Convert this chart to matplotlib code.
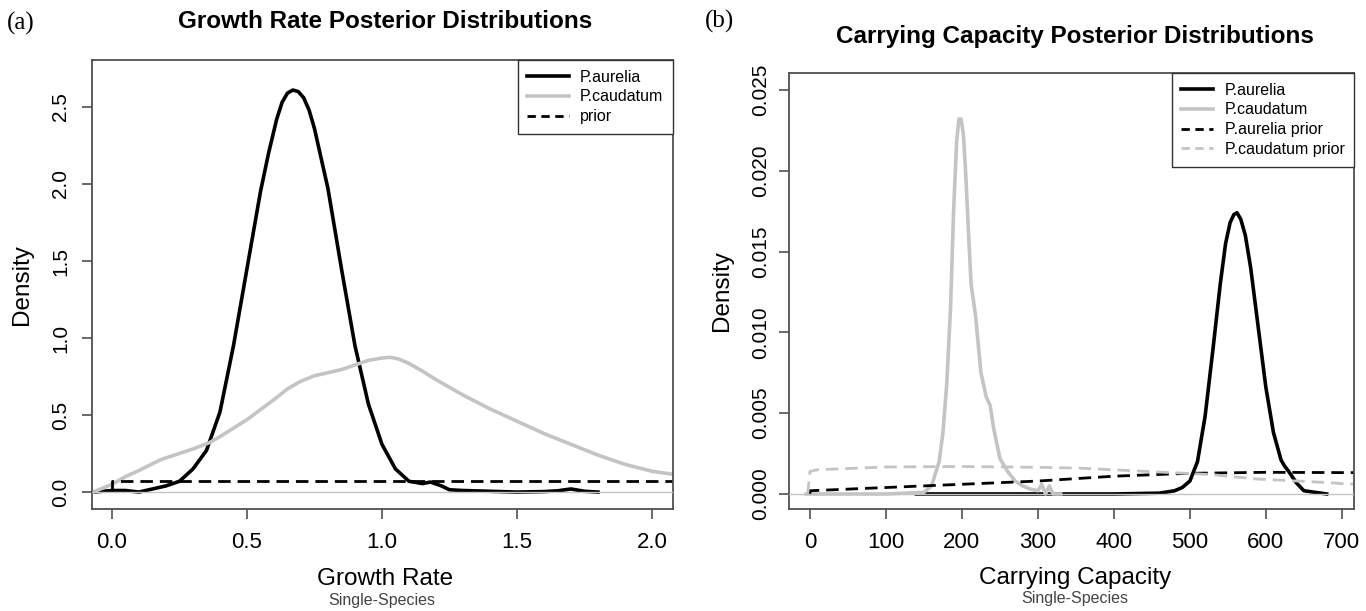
import matplotlib
matplotlib.use('Agg')
import matplotlib.pyplot as plt
from matplotlib.lines import Line2D

plt.rcParams['font.family'] = ['Liberation Sans', 'DejaVu Sans']

# growth rate panel (a)
gr_aur_x = [-0.07, 0.0, 0.05, 0.1, 0.15, 0.2, 0.25, 0.3, 0.35, 0.4, 0.45, 0.5, 0.55, 0.58, 0.61,
            0.63, 0.65, 0.67, 0.69, 0.71, 0.73, 0.75, 0.8, 0.85, 0.9, 0.95, 1.0, 1.05, 1.1, 1.15,
            1.18, 1.22, 1.25, 1.3, 1.4, 1.5, 1.6, 1.65, 1.7, 1.75, 1.8]
gr_aur_y = [0.0, 0.01, 0.01, 0.0, 0.02, 0.04, 0.07, 0.15, 0.27, 0.52, 0.95, 1.45, 1.95, 2.2, 2.42,
            2.53, 2.59, 2.61, 2.6, 2.56, 2.48, 2.36, 1.97, 1.45, 0.95, 0.57, 0.31, 0.15, 0.07, 0.055,
            0.065, 0.04, 0.015, 0.01, 0.005, 0.0, 0.003, 0.008, 0.02, 0.005, 0.0]
gr_cau_x = [-0.07, 0.0, 0.05, 0.1, 0.18, 0.3, 0.36, 0.4, 0.5, 0.6, 0.65, 0.7, 0.75, 0.8, 0.85,
            0.9, 0.95, 1.0, 1.03, 1.06, 1.1, 1.15, 1.2, 1.3, 1.4, 1.5, 1.6, 1.7, 1.8, 1.9, 2.0, 2.08]
gr_cau_y = [0.0, 0.05, 0.1, 0.14, 0.21, 0.28, 0.32, 0.36, 0.47, 0.6, 0.67, 0.72, 0.755, 0.775, 0.795,
            0.825, 0.855, 0.87, 0.875, 0.865, 0.835, 0.785, 0.73, 0.63, 0.54, 0.46, 0.38, 0.31, 0.24,
            0.18, 0.135, 0.115]
gr_prior_x = [0.0, 0.0, 2.1]
gr_prior_y = [0.0, 0.07, 0.07]

# carrying capacity panel (b)
cc_aur_x = [140, 200, 300, 400, 460, 480, 490, 500, 510, 520, 530, 540, 547, 553, 558, 562, 567,
            573, 580, 590, 600, 610, 620, 625, 630, 640, 650, 665, 680]
cc_aur_y = [0, 0, 0, 0, 0.00005, 0.0002, 0.0004, 0.0008, 0.002, 0.0048, 0.0088, 0.013, 0.0155,
            0.0168, 0.0173, 0.0174, 0.0170, 0.0160, 0.014, 0.0103, 0.0066, 0.0038, 0.0021, 0.0017,
            0.0014, 0.0007, 0.0002, 0.0001, 0]
cc_cau_x = [-5, 0, 50, 100, 150, 160, 170, 175, 180, 185, 189, 193, 196, 199, 202, 205, 208,
            212, 218, 225, 232, 237, 242, 250, 260, 270, 280, 290, 300, 305, 310, 315, 320, 330]
cc_cau_y = [0, 0, 0, 0, 0.0001, 0.0005, 0.002, 0.0038, 0.0068, 0.0115, 0.0175, 0.0218, 0.0232,
            0.0232, 0.0222, 0.0198, 0.0168, 0.013, 0.011, 0.0075, 0.006, 0.0055, 0.004, 0.0022,
            0.0014, 0.0008, 0.0005, 0.0003, 0.0002, 0.0006, 0.0, 0.0005, 0.0, 0.0]
cc_aur_prior_x = [0, 0, 100, 200, 300, 400, 500, 600, 716]
cc_aur_prior_y = [0, 0.0002, 0.0004, 0.0006, 0.0008, 0.0011, 0.00128, 0.00134, 0.00132]
cc_cau_prior_x = [-3, 0, 10, 100, 200, 300, 354, 441, 528, 587, 667, 716]
cc_cau_prior_y = [0, 0.0014, 0.0015, 0.00167, 0.0017, 0.00165, 0.0016, 0.0014, 0.0012, 0.00093, 0.00074, 0.0006]

BLACK = 'black'
GRAY = '#c4c4c4'
AXC = '#505050'

fig = plt.figure(figsize=(13.66, 6.11), dpi=100)
W, H = 1366.0, 611.0
ax1 = fig.add_axes([92 / W, 1 - 509 / H, (673 - 92) / W, (509 - 60) / H])
ax2 = fig.add_axes([789 / W, 1 - 509 / H, (1354 - 789) / W, (509 - 73) / H])

for ax in (ax1, ax2):
    for s in ax.spines.values():
        s.set_color(AXC)
        s.set_linewidth(1.3)
    ax.tick_params(colors=AXC, labelcolor='black', length=7.5, width=1.2)
    ax.tick_params(axis='x', labelsize=16, pad=9)
    ax.tick_params(axis='y', labelsize=15)

# (a)
ax1.plot(gr_aur_x, gr_aur_y, color=BLACK, lw=2.6, solid_joinstyle='round')
ax1.plot(gr_cau_x, gr_cau_y, color=GRAY, lw=2.6, solid_joinstyle='round')
ax1.plot(gr_prior_x, gr_prior_y, color=BLACK, lw=2.0, dashes=(4.5, 2.5))
ax1.axhline(0, color=GRAY, lw=1.0, zorder=5)
ax1.set_xlim(-0.074, 2.078)
ax1.set_ylim(-0.11, 2.805)
ax1.set_xticks([0.0, 0.5, 1.0, 1.5, 2.0])
ax1.set_xticklabels(['0.0', '0.5', '1.0', '1.5', '2.0'])
ax1.set_yticks([0.0, 0.5, 1.0, 1.5, 2.0, 2.5])
ax1.set_yticklabels(['0.0', '0.5', '1.0', '1.5', '2.0', '2.5'], rotation=90, va='center')
ax1.tick_params(axis='y', pad=8)

h1 = [Line2D([], [], color=BLACK, lw=2.6),
      Line2D([], [], color=GRAY, lw=2.6),
      Line2D([], [], color=BLACK, lw=2.0, dashes=(3, 2))]
leg1 = ax1.legend(h1, ['P.aurelia', 'P.caudatum', 'prior'], loc='upper right',
                  bbox_to_anchor=(1, 1), borderaxespad=0, fancybox=False, fontsize=11.5,
                  handlelength=2.6, handletextpad=0.7, labelspacing=0.3, borderpad=0.6,
                  framealpha=1)
leg1.get_frame().set_edgecolor('#333333')
leg1.get_frame().set_linewidth(1.0)

# (b)
ax2.plot(cc_aur_x, cc_aur_y, color=BLACK, lw=2.6, solid_joinstyle='round')
ax2.plot(cc_cau_x, cc_cau_y, color=GRAY, lw=2.6, solid_joinstyle='round')
ax2.plot(cc_aur_prior_x, cc_aur_prior_y, color=BLACK, lw=2.0, dashes=(4.5, 2.5))
ax2.plot(cc_cau_prior_x, cc_cau_prior_y, color=GRAY, lw=2.0, dashes=(4.5, 2.5))
ax2.axhline(0, color=GRAY, lw=1.0, zorder=5)
ax2.set_xlim(-27.6, 716)
ax2.set_ylim(-0.00093, 0.02605)
ax2.set_xticks([0, 100, 200, 300, 400, 500, 600, 700])
ax2.set_xticklabels(['0', '100', '200', '300', '400', '500', '600', '700'])
ax2.set_yticks([0.0, 0.005, 0.010, 0.015, 0.020, 0.025])
ax2.set_yticklabels(['0.000', '0.005', '0.010', '0.015', '0.020', '0.025'], rotation=90, va='center')
ax2.tick_params(axis='y', pad=6)

h2 = [Line2D([], [], color=BLACK, lw=2.6),
      Line2D([], [], color=GRAY, lw=2.6),
      Line2D([], [], color=BLACK, lw=2.0, dashes=(3, 2)),
      Line2D([], [], color=GRAY, lw=2.0, dashes=(3, 2))]
leg2 = ax2.legend(h2, ['P.aurelia', 'P.caudatum', 'P.aurelia prior', 'P.caudatum prior'],
                  loc='upper right', bbox_to_anchor=(1, 1), borderaxespad=0, fancybox=False,
                  fontsize=11.5, handlelength=2.0, handletextpad=0.7, labelspacing=0.3,
                  borderpad=0.6, framealpha=1)
leg2.get_frame().set_edgecolor('#333333')
leg2.get_frame().set_linewidth(1.0)

# texts
fig.text(7 / W, 1 - 23 / H, '(a)', family='Liberation Serif', fontsize=18, va='center', ha='left')
fig.text(705 / W, 1 - 21 / H, '(b)', family='Liberation Serif', fontsize=18, va='center', ha='left')
fig.text(385 / W, 1 - 22 / H, 'Growth Rate Posterior Distributions', fontsize=17.5,
         fontweight='bold', ha='center', va='center')
fig.text(1075 / W, 1 - 36 / H, 'Carrying Capacity Posterior Distributions', fontsize=17.5,
         fontweight='bold', ha='center', va='center')
fig.text(22 / W, 1 - 284.5 / H, 'Density', fontsize=17.5, rotation=90, ha='center', va='center')
fig.text(722 / W, 1 - 291 / H, 'Density', fontsize=17.5, rotation=90, ha='center', va='center')
fig.text(385 / W, 1 - 579 / H, 'Growth Rate', fontsize=17.5, ha='center', va='center')
fig.text(1075 / W, 1 - 578 / H, 'Carrying Capacity', fontsize=17.5, ha='center', va='center')
fig.text(382 / W, 1 - 601 / H, 'Single-Species', fontsize=11.5, color='#444444', ha='center', va='center')
fig.text(1075 / W, 1 - 599 / H, 'Single-Species', fontsize=11.5, color='#444444', ha='center', va='center')

fig.savefig('out.png', dpi=100)
